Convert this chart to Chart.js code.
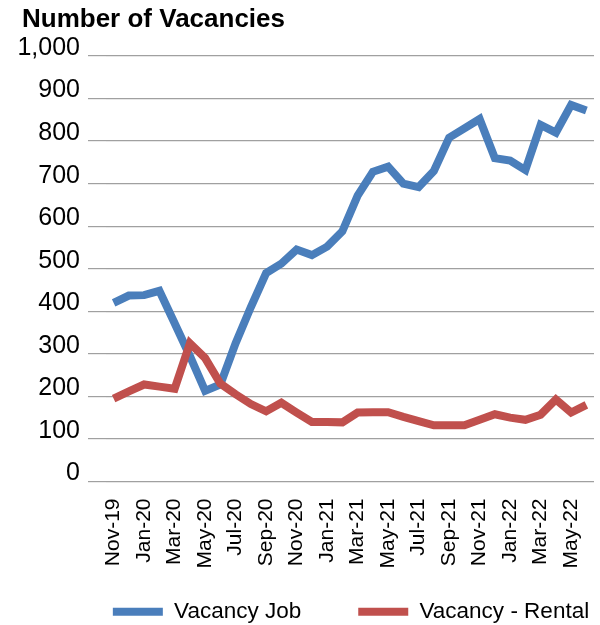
<!DOCTYPE html>
<html>
<head>
<meta charset="utf-8">
<script src="https://cdn.jsdelivr.net/npm/chart.js@4.4.0/dist/chart.umd.min.js"></script>
<style>
    body { margin: 0; background: #fff; }
    #wrap { position: relative; width: 600px; height: 625px; }
    #title {
        position: absolute; left: 22px; top: 3px;
        font: bold 26px 'Liberation Sans', Arial, sans-serif; color: #000;
    }
</style>
</head>
<body>
<div id="wrap">
    <div id="title">Number of Vacancies</div>
    <canvas id="vacChart"></canvas>
</div>
<script>
// Monthly series, Nov-19 .. Jun-22
const months = ['Nov-19','Dec-19','Jan-20','Feb-20','Mar-20','Apr-20','May-20','Jun-20','Jul-20','Aug-20',
    'Sep-20','Oct-20','Nov-20','Dec-20','Jan-21','Feb-21','Mar-21','Apr-21','May-21','Jun-21',
    'Jul-21','Aug-21','Sep-21','Oct-21','Nov-21','Dec-21','Jan-22','Feb-22','Mar-22','Apr-22',
    'May-22','Jun-22'];

const vacancyJob = [420, 437, 438, 448, 372, 295, 213, 228, 325, 410,
    490, 512, 545, 532, 552, 588, 672, 728, 740, 700,
    692, 730, 808, 830, 852, 760, 754, 732, 838, 820,
    885, 872];

const vacancyRental = [195, 212, 228, 223, 218, 325, 290, 230, 205, 182,
    165, 185, 162, 140, 140, 139, 162, 163, 163, 152,
    142, 132, 132, 132, 145, 158, 150, 145, 157, 193,
    162, 180];

const yTicks = [0, 100, 200, 300, 400, 500, 600, 700, 800, 900, 1000];

const FONT = "'Liberation Sans', Arial, sans-serif";

// legend sits right of centre in the original, nudge it over after layout
const legendShift = {
    id: 'legendShift',
    afterLayout(chart) {
        const lg = chart.legend;
        if (lg) { lg.left += 54; lg.right += 54; }
    }
};

const ctx = document.getElementById('vacChart');
new Chart(ctx, {
    type: 'line',
    data: {
        labels: months,
        datasets: [
            {
                label: 'Vacancy Job',
                data: vacancyJob,
                borderColor: '#4a7ebb',
                backgroundColor: '#4a7ebb',
                borderWidth: 8,
                pointRadius: 0,
                tension: 0,
                order: 1
            },
            {
                label: 'Vacancy - Rental',
                data: vacancyRental,
                borderColor: '#c0504d',
                backgroundColor: '#c0504d',
                borderWidth: 8,
                pointRadius: 0,
                tension: 0,
                order: 0
            }
        ]
    },
    plugins: [legendShift],
    options: {
        responsive: true,
        maintainAspectRatio: false,
        animation: false,
        layout: { padding: { top: 56, right: 6, left: 0, bottom: -8 } },
        plugins: {
            title: { display: false },
            tooltip: { enabled: false },
            legend: {
                position: 'bottom',
                align: 'center',
                labels: {
                    font: { family: FONT, size: 22.5 },
                    color: '#000',
                    boxWidth: 50,
                    boxHeight: 8,
                    padding: 57,
                    generateLabels: (chart) => chart.data.datasets.map((ds, i) => ({
                        text: ds.label,
                        fillStyle: ds.borderColor,
                        strokeStyle: ds.borderColor,
                        lineWidth: 0,
                        hidden: false,
                        datasetIndex: i,
                        fontColor: '#000'
                    }))
                }
            }
        },
        scales: {
            x: {
                offset: true,
                grid: { display: false, drawTicks: false },
                border: { display: false },
                afterFit: (scale) => {
                    scale.paddingLeft = 0;
                    scale.paddingRight = 0;
                    scale.height = 62;
                    // rotated labels run past the shortened box, so don't clip them
                    scale._computeLabelArea = () => null;
                },
                ticks: {
                    autoSkip: false,
                    maxRotation: 90,
                    minRotation: 90,
                    padding: 17,
                    color: '#000',
                    font: { family: FONT, size: 21 },
                    callback: function(val, i) { return i % 2 === 0 ? this.getLabelForValue(val) : ''; }
                }
            },
            y: {
                min: 0,
                max: 1000,
                afterBuildTicks: (scale) => { scale.ticks = yTicks.map(v => ({ value: v })); },
                afterFit: (scale) => { scale.width = 106; },
                border: { display: false },
                grid: { color: '#a0a0a0', lineWidth: 1.2, drawTicks: true, tickLength: 18, tickColor: '#a0a0a0' },
                ticks: {
                    padding: 8,
                    labelOffset: -8,
                    color: '#000',
                    font: { family: FONT, size: 25 },
                    callback: (v) => v.toLocaleString('en-US')
                }
            }
        }
    }
});
</script>
</body>
</html>
